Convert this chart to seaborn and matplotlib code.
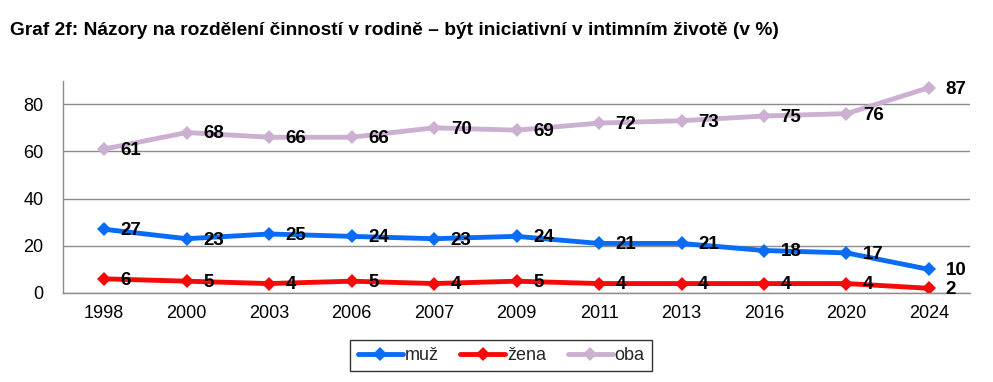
import pandas as pd
import numpy as np
import matplotlib.pyplot as plt
import seaborn as sns

years = ["1998", "2000", "2003", "2006", "2007", "2009", "2011", "2013", "2016", "2020", "2024"]
muz = [27, 23, 25, 24, 23, 24, 21, 21, 18, 17, 10]
zena = [6, 5, 4, 5, 4, 5, 4, 4, 4, 4, 2]
oba = [61, 68, 66, 66, 70, 69, 72, 73, 75, 76, 87]

series = {"muž": muz, "žena": zena, "oba": oba}
colors = {"muž": "#0A6CF5", "žena": "#F50A0A", "oba": "#CCB0D2"}

df = pd.DataFrame({
    "pos": np.tile(np.arange(len(years)), len(series)),
    "value": muz + zena + oba,
    "serie": np.repeat(list(series.keys()), len(years)),
})

sns.set_theme(style="white")
plt.rcParams["font.family"] = ["Liberation Sans", "DejaVu Sans"]

fig = plt.figure(figsize=(9.93, 3.82), dpi=100)
ax = fig.add_axes([0.0634, 0.233, 0.9136, 0.556])

sns.lineplot(data=df, x="pos", y="value", hue="serie", palette=colors,
             marker="D", markersize=7, markeredgewidth=0, linewidth=3.5,
             ax=ax, legend=True)

# data labels to the right of each point
for name, vals in series.items():
    for i, v in enumerate(vals):
        ax.annotate(str(v), (i, v), xytext=(12, -1), textcoords="offset points",
                    ha="left", va="center", fontsize=13.5, fontweight="bold", color="black")

ax.set_xlim(-0.5, len(years) - 0.5)
ax.set_ylim(0, 90)
ax.set_yticks([0, 20, 40, 60, 80])
ax.set_xticks(np.arange(len(years)))
ax.set_xticklabels(years)
ax.set_xticks(np.arange(len(years) + 1) - 0.5, minor=True)
ax.tick_params(axis="x", which="major", length=0, labelsize=13, pad=9, colors="black")
ax.tick_params(axis="x", which="minor", length=5, width=1, color="#8c8c8c", direction="out")
ax.tick_params(axis="y", length=0, labelsize=13, pad=14, colors="black")
ax.yaxis.grid(True, color="#8c8c8c", linewidth=1)
ax.xaxis.grid(False)
ax.set_xlabel("")
ax.set_ylabel("")
for side in ["top", "right"]:
    ax.spines[side].set_visible(False)
for side in ["left", "bottom"]:
    ax.spines[side].set_color("#8c8c8c")
    ax.spines[side].set_linewidth(1)

handles, labels = ax.get_legend_handles_labels()
leg = ax.legend(handles, labels, loc="center", bbox_to_anchor=(0.483, -0.295), ncol=3,
                frameon=True, fancybox=False, fontsize=13, handlelength=2.5,
                handletextpad=0.1, columnspacing=1.2, borderpad=0.4, borderaxespad=0)
leg.get_frame().set_edgecolor("black")
leg.get_frame().set_linewidth(1)

fig.text(0.01, 0.921, "Graf 2f: Názory na rozdělení činností v rodině – být iniciativní v intimním životě (v %)",
         fontsize=13.8, fontweight="bold", ha="left", va="center", color="black")

fig.savefig("out.png", dpi=100)
